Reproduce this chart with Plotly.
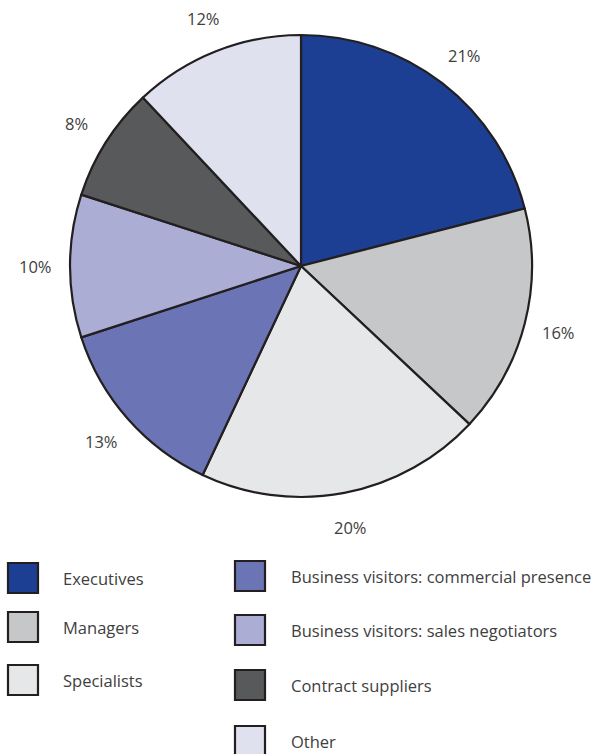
import math
import plotly.graph_objects as go

# Share of each category (percent)
categories = [
    "Executives",
    "Managers",
    "Specialists",
    "Business visitors: commercial presence",
    "Business visitors: sales negotiators",
    "Contract suppliers",
    "Other",
]
shares = [21, 16, 20, 13, 10, 8, 12]
colors = ["#1c3f94", "#c6c7c9", "#e6e7e8", "#6b74b4", "#abadd5", "#58595b", "#dfe1ef"]

W, H = 596, 754
CX, CY, RADIUS = 301, 266, 231      # pie centre and radius in pixels
LABEL_R = 266                       # distance of the percentage labels from the centre
TEXT_COLOR = "#404040"
FONT = "Open Sans"
FONT_SIZE = 16.5
EDGE = "#231f20"

fig = go.Figure()

fig.add_trace(go.Pie(
    labels=categories,
    values=shares,
    sort=False,
    direction="clockwise",
    rotation=0,
    marker=dict(colors=colors, line=dict(color=EDGE, width=2.2)),
    textinfo="none",
    hoverinfo="label+percent",
    showlegend=False,
    domain=dict(
        x=[(CX - RADIUS) / W, (CX + RADIUS) / W],
        y=[1 - (CY + RADIUS) / H, 1 - (CY - RADIUS) / H],
    ),
))

# Percentage labels placed radially outside each slice
total = sum(shares)
cum = 0
for v in shares:
    mid = 2 * math.pi * (cum + v / 2) / total
    cum += v
    x = CX + LABEL_R * math.sin(mid)
    y = CY - LABEL_R * math.cos(mid)
    fig.add_annotation(
        x=x, y=y, xref="x", yref="y", text=f"{v}%", showarrow=False,
        font=dict(family=FONT, size=FONT_SIZE, color=TEXT_COLOR),
        xanchor="center", yanchor="middle",
    )

# Two-column legend under the pie
left_rows = [578, 627, 680]
right_rows = [576, 630, 685, 741]
SQ = 30
for i, (name, col) in enumerate(zip(categories, colors)):
    if i < 3:
        sx, cy = 8, left_rows[i]
        tx = 61
    else:
        sx, cy = 235, right_rows[i - 3]
        tx = 289
    fig.add_shape(
        type="rect", xref="x", yref="y",
        x0=sx, x1=sx + SQ, y0=cy - SQ / 2, y1=cy + SQ / 2,
        fillcolor=col, line=dict(color=EDGE, width=2.2),
    )
    fig.add_annotation(
        x=tx, y=cy, xref="x", yref="y", text=name, showarrow=False,
        font=dict(family=FONT, size=FONT_SIZE, color=TEXT_COLOR),
        xanchor="left", yanchor="middle",
    )

fig.update_xaxes(range=[0, W], visible=False, fixedrange=True)
fig.update_yaxes(range=[H, 0], visible=False, fixedrange=True)
fig.update_layout(
    width=W, height=H,
    margin=dict(l=0, r=0, t=0, b=0),
    paper_bgcolor="white",
    plot_bgcolor="rgba(0,0,0,0)",
    showlegend=False,
)

fig.write_html("out.html")
